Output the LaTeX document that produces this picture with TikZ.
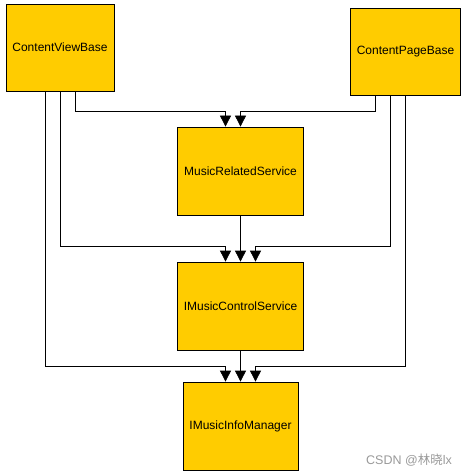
\documentclass[tikz,border=0pt]{standalone}
\usepackage{fontspec}
\setmainfont{Liberation Sans}
\newfontfamily\cjkfont{Noto Sans CJK SC}
\usetikzlibrary{arrows.meta}
\tikzset{
  klass/.style={draw, line width=0.75pt, fill=boxfill, font=\fontsize{12}{14}\selectfont,
    inner sep=0pt},
  arr/.style={-{Triangle[length=11pt,width=11pt]}, line width=0.75pt},
}
\definecolor{boxfill}{HTML}{FFCC00}
\begin{document}
\begin{tikzpicture}[x=1pt,y=-1pt]
      \useasboundingbox (0,0) rectangle (469,476);
      \draw
        (60,47.5) node[klass, minimum width=108pt, minimum height=87pt] (cvb){ContentViewBase}
        (405.5,51.5) node[klass, minimum width=110pt, minimum height=87pt] (cpb){ContentPageBase}
        (240.5,171) node[klass, minimum width=126pt, minimum height=88pt] (mrs){MusicRelatedService}
        (240.5,306) node[klass, minimum width=126pt, minimum height=88pt] (imcs){IMusicControlService}
        (240.5,426) node[klass, minimum width=115pt, minimum height=88pt] (imim){IMusicInfoManager};
      \begin{scope}[arr]
        \draw ([xshift=15pt]cvb.south) -- ++(0,20) -| ([xshift=-15pt]mrs.north);
        \draw ([xshift=-30pt]cpb.south) -- ++(0,16) -| (mrs.north);
        \draw (cvb.south) -- ++(0,155) -| ([xshift=-15pt]imcs.north);
        \draw (mrs) -- (imcs);
        \draw ([xshift=-15pt]cpb.south) -- ++(0,151) -| ([xshift=15pt]imcs.north);
        \draw ([xshift=-15pt]cvb.south) -- ++(0,275) -| ([xshift=-15pt]imim.north);
        \draw (imcs) -- (imim);
        \draw (cpb.south) -- ++(0,271) -| ([xshift=15pt]imim.north);
      \end{scope}
      \node[text=black!40, font=\fontsize{12.5}{14}\selectfont] (mark) at (409,460) {CSDN @{\cjkfont 林晓}lx};
    \end{tikzpicture}
\end{document}
